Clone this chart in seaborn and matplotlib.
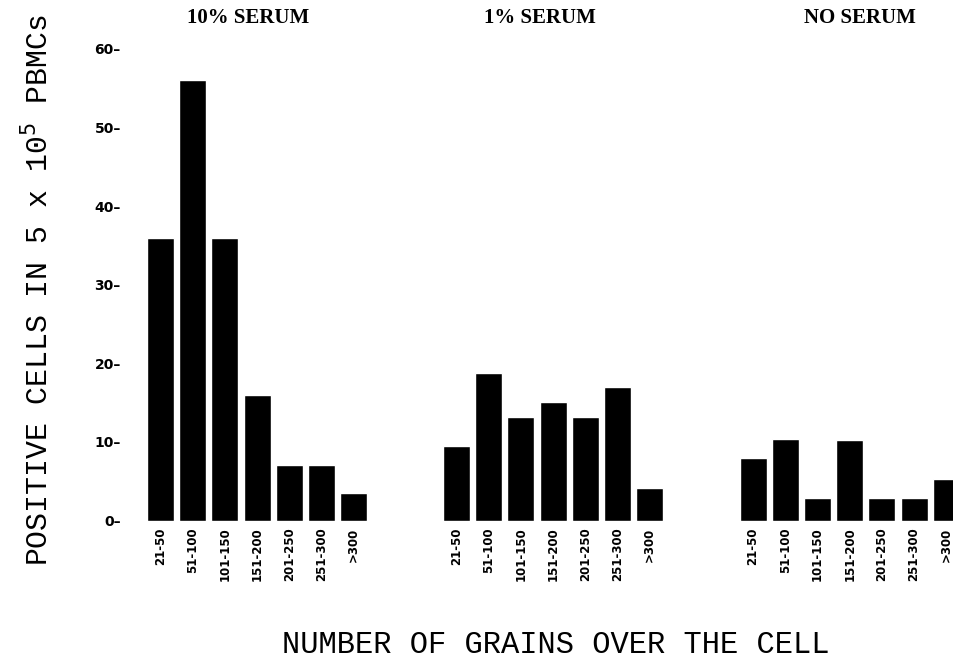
import matplotlib
matplotlib.use("Agg")
import matplotlib.pyplot as plt
import seaborn as sns
import pandas as pd

# grain-count bins (x categories)
bins = ["21-50", "51-100", "101-150", "151-200", "201-250", "251-300", ">300"]
panels = ["10% SERUM", "1% SERUM", "NO SERUM"]

# positive cells per 5 x 10^5 PBMCs
serum_10 = [36, 56, 36, 16, 7, 7, 3.5]
serum_1 = [9.5, 18.8, 13.2, 15.1, 13.2, 17, 4.1]
serum_0 = [7.9, 10.4, 2.9, 10.3, 2.8, 2.8, 5.3]

y_ticks = [0, 10, 20, 30, 40, 50, 60]

sns.set_style("white")

fig = plt.figure(figsize=(9.54, 6.6), dpi=100)
W, H = 954, 660

# axes placement in pixels: left edge of each panel, shared baseline
lefts = [144.4, 440.4, 737.0]
panel_w = 7 * 32.2
y0, y60 = 520.5, 49.0
title_x = [248, 540, 860]

for i, (name, vals) in enumerate(zip(panels, [serum_10, serum_1, serum_0])):
    df = pd.DataFrame({"bin": bins, "count": vals})
    ax = fig.add_axes([lefts[i] / W, (H - y0) / H, panel_w / W, (y0 - y60) / H])
    sns.barplot(data=df, x="bin", y="count", color="black", width=0.84,
                saturation=1, ax=ax)
    ax.set_ylim(0, 60)
    ax.set_xlim(-0.5, 6.5)
    for s in ax.spines.values():
        s.set_visible(False)
    ax.set_xlabel("")
    ax.set_ylabel("")
    ax.tick_params(axis="x", length=0, pad=5, labelcolor="black")
    for lab in ax.get_xticklabels():
        lab.set_rotation(90)
        lab.set_fontsize(8.5)
        lab.set_fontweight("bold")
        lab.set_verticalalignment("top")
    if i == 0:
        ax.set_yticks(y_ticks)
        ax.set_yticklabels([f"{t}\u2013" for t in y_ticks], fontsize=10,
                           fontweight="bold")
        ax.tick_params(axis="y", length=0, pad=17, labelcolor="black")
    else:
        ax.set_yticks([])
    fig.text(title_x[i] / W, 1 - 18 / H, name, ha="center", va="center",
             fontsize=15, fontweight="bold", family="Liberation Serif",
             color="black")

fig.text(38 / W, 1 - 290 / H, r"POSITIVE CELLS IN 5 x 10$^5$ PBMCs",
         rotation=90, ha="center", va="center", fontsize=21.5,
         family="Liberation Mono", color="black")
fig.text(556 / W, 1 - 645 / H, "NUMBER OF GRAINS OVER THE CELL",
         ha="center", va="center", fontsize=22, family="Liberation Mono",
         color="black")

fig.savefig("out.png", dpi=100)
